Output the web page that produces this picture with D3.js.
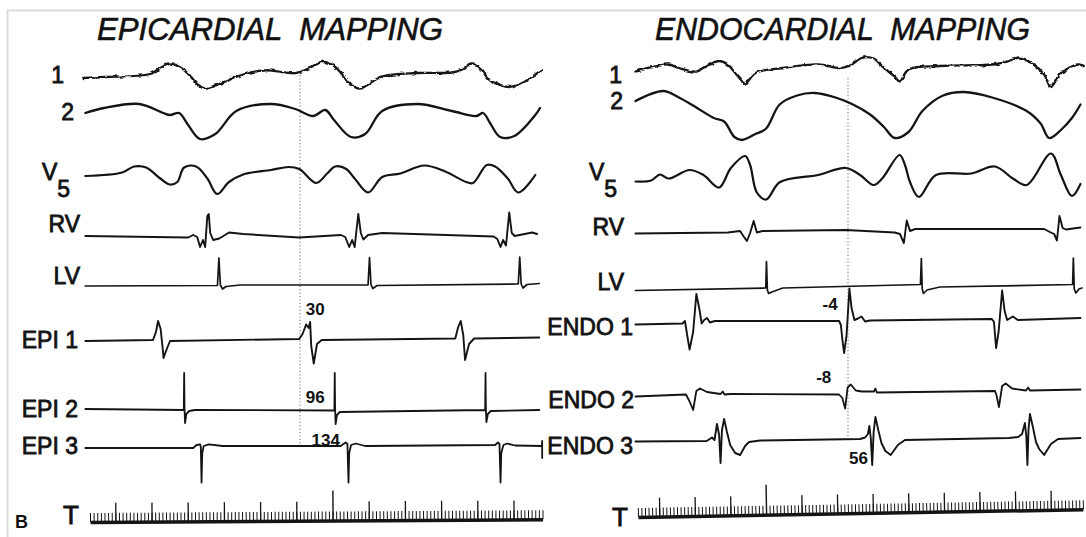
<!DOCTYPE html>
<html>
<head>
<meta charset="utf-8">
<script src="https://cdn.jsdelivr.net/npm/d3@7"></script>
<style>
  html, body { margin: 0; padding: 0; background: #fff; }
  svg { display: block; }
  text { font-family: "Liberation Sans", Arial, sans-serif; fill: #111; }
</style>
</head>
<body>
<svg id="chart" width="1086" height="537"></svg>
<script>
// ---------------------------------------------------------------
// Recordings: each lead is a list of [time (ms), deflection] pairs.
// Time 0 is the reference (dotted line); deflection is upward-positive.
// ---------------------------------------------------------------

// Epicardial mapping panel
const epiLead1 = [[-598,-5],[-541,-4],[-415,-1],[-386,5],[-359,9.5],[-328,5],[-306,-2],[-281,-12],[-262,-15.5],[-214,-9.5],[-157,-1.5],[-99,2.5],[-12,0],[17,3.5],[64,11],[94,7],[117,-1.5],[141,-12],[166,-15.5],[227,-3.5],[324,0],[420,0.5],[448,3.5],[473,9.5],[500,3.5],[525,-7.5],[554,-12],[574,-14],[611,-10.5],[650,-1.5],[668,3]];
const epiLead2 = [[-593,-3],[-541,2],[-444,6],[-378,-3],[-359,-5],[-334,-3],[-309,-15],[-276,-29],[-234,-24],[-176,-1],[-80,6],[-13,1],[36,-6],[70,0],[94,-10],[141,-27],[180,-24],[227,-1],[324,6],[420,-1],[487,-6],[506,-3],[525,-13],[553,-27],[592,-26],[650,-5],[663,2]];
const epiV5 = [[-593,0],[-491,3.5],[-458,9.5],[-425,8.5],[-386,-2.5],[-359,-8.5],[-339,-6],[-320,8.5],[-287,9.5],[-256,-2.5],[-229,-18],[-196,-6],[-157,1.5],[-80,6],[-31,9],[-2,7],[45,-7],[75,2.5],[97,9.5],[128,7],[151,-2.5],[188,-16.5],[227,-1],[277,2.5],[343,10.5],[401,4.5],[459,-6],[478,-7],[516,11],[539,9.5],[574,-2.5],[603,-16.5],[650,1]];
const epiRV = [[-593,0],[-309,-1.5],[-295,1],[-284,-1],[-276,-11],[-268,-4],[-262,-11],[-256,20],[-252,22],[-248,3],[-240,-4],[-223,-2.5],[-196,3.5],[-157,2],[-2,-1.5],[113,1],[125,-1],[136,-11],[144,-4],[151,-11],[161,22],[168,3],[175,-3.5],[188,1],[227,3],[535,-0.5],[545,-3],[554,-11],[561,-4],[569,-9.5],[578,23.5],[585,3],[593,0],[641,3.5],[655,2]];
const epiLV = [[-593,-3],[-228,-2.5],[-224,25],[-220,-2],[-214,-6],[-204,-3.5],[-165,-2],[188,-2],[192,25.5],[196,-1.5],[201,-5.5],[213,-2.5],[603,-1],[607,26],[611,-1],[616,-5],[627,-1.5],[661,-0.5]];
const epi1 = [[-593,-1],[-406,0],[-398,8],[-392,19],[-385,11],[-379,-9.5],[-377,-18],[-367,-8],[-359,-1],[-2,1],[7,6],[17,15.5],[24,12],[28,18],[31,-6],[38,-23.5],[47,-4],[60,0],[429,1.5],[437,13],[444,19],[451,5],[456,-20],[467,-4],[481,1.5],[661,2.5]];
const epi2 = [[-593,0],[-321,-1],[-320,36],[-319,0],[-317.5,-14],[-314,-5],[-306,-2],[-290,-1],[95,-1.5],[96,36],[97,-1],[98.5,-15],[102,-6],[110,-3],[511.5,-1],[512.5,36],[513.5,-1],[515,-13],[519,-5],[527,-2],[661,-1]];
const epi3 = [[-593,-1],[-295,-1],[-286,2],[-276,2.7],[-274,0],[-272,-35.5],[-270,-6],[-266,1],[-252,2.7],[-214,1],[112,1],[126,4.5],[131,3],[134,-35.5],[136,-6],[141,2],[154,3.5],[180,1],[539,2],[547,4.5],[551,3],[554,-35.5],[556,-6],[562,2],[572,3.5],[594,1.5],[668,1],[669,6],[669,-11]];

// Endocardial mapping panel
const endoLead1 = [[-597,-1.5],[-543,3.5],[-504,5.5],[-475,2],[-426,-1.5],[-388,5.5],[-362,9],[-338,5.5],[-309,-6.5],[-289,-13.5],[-260,-3],[-183,2],[-84,5.5],[-25,2],[3,4],[42,12.5],[72,11.5],[101,2],[131,-6.5],[145,-11.5],[170,0.5],[258,4],[405,5.5],[452,9],[482,12.5],[521,5.5],[551,-4.5],[570,-17],[598,-3],[648,5.5],[660,4]];
const endoLead2 = [[-597,-1],[-519,9],[-475,2.5],[-426,-7.5],[-377,-18],[-348,-21.5],[-319,-37],[-298,-40],[-260,-34],[-230,-28.5],[-192,-4.5],[-143,4.5],[-94,7],[-35,2.5],[14,-4.5],[62,-14.5],[101,-27],[131,-38],[170,-32],[209,-11],[267,4.5],[326,8],[405,2.5],[502,-11],[541,-23.5],[565,-38],[598,-30],[629,-18],[653,-4.5]];
const endoV5 = [[-597,-1.5],[-553,-0.5],[-528,5.5],[-504,1.5],[-445,10],[-406,5],[-362,-7.5],[-329,12],[-289,24],[-275,15],[-256,-12.5],[-230,-19.5],[-191,-2],[-84,5],[-6,12],[34,5],[72,-5],[96,1.5],[145,25],[160,15],[174,-2],[199,-17],[247,5],[346,6.5],[413,13.5],[463,1.5],[502,-5],[570,26.5],[598,5],[629,-16],[653,-4]];
const endoRV = [[-597,-0.5],[-338,0.5],[-303,2],[-294,-3],[-284,-8],[-275,0],[-265,12],[-256,0.5],[-240,2],[-6,3],[131,0.5],[146,-1],[157,-10],[165,12.5],[174,2],[189,4],[551,4],[567,1],[579,-1],[587,-7.5],[594,17],[603,5],[612,3.5],[653,5.5]];
const endoLV = [[-597,-2.5],[-231,0],[-229,26.5],[-226.5,-2],[-223,-5.5],[-214,-4],[-183,0],[203.5,3.5],[206,29.5],[208.5,-1],[212,-5.5],[222,-2],[258,1],[631,3.5],[633,30],[635.5,-1],[640,-5],[649,-1],[657,0]];
const endo1 = [[-597,-2.5],[-465,-1.5],[-458,1],[-450,-17],[-445,-27.5],[-435,-10],[-426,28],[-418,14],[-411,-1.5],[-404,2],[-396,4],[-388,-0.5],[-374,1],[-25,1],[-20,-3],[-16,-17],[-11,-31],[-4,-13],[4,33.5],[10,14],[18,2],[28,3.5],[38,5.5],[48,0.5],[62,1.5],[404,3],[410,0],[416,-26],[423,-10],[433,31.5],[440,11],[447,2],[463,5.5],[477,2],[653,4]];
const endo2 = [[-597,-1.5],[-455,0.5],[-445,-6.5],[-435,-15],[-426,4],[-416,6.5],[-396,3],[-358,1],[-352,3.5],[-347,0.5],[-331,1],[-25,0.5],[-16,-3],[-8,-13.5],[-1,7.5],[8,10.5],[22,4.5],[39,3.5],[73,3.5],[77,6.5],[81,2.5],[413,4],[417,0],[424,-12],[433,9],[443,11.5],[461,6.5],[500,4.5],[506,7.5],[511,4.5],[653,5.5]];
const endo3 = [[-597,-1.5],[-397,-1],[-382,2.5],[-375,0],[-368,16],[-362,5],[-358,-23],[-354,10],[-348,21],[-340,8],[-331,-5],[-317,-13],[-303,-15],[-289,-6],[-278,-2],[-247,-0.5],[34,1],[48,2.5],[56,6],[60,14],[64,2],[68,-25],[72,8],[77,23],[85,10],[94,-3],[105,-11],[120,-15],[140,-5],[160,0],[452,2],[478,3],[489,6],[497,17],[501,3],[504,-25],[507,10],[511,26],[520,12],[528,-2],[537,-9],[551,-15],[570,-4],[590,1],[653,2]];

// Activation times written beside the mapping electrograms (ms)
const epiActivation = [["EPI 1", 30], ["EPI 2", 96], ["EPI 3", 134]];
const endoActivation = [["ENDO 1", -4], ["ENDO 2", -8], ["ENDO 3", 56]];

// Time-marker rulers: [first, last] minor tick (10 ms apart), 100 ms marks, long mark
const epiRulerRange = [-580, 670];
const epiRulerMajor = [-510, -410, -310, -210, -110, -10, 190, 290, 390, 490, 590];
const epiRulerLong = [90];
const endoRulerRange = [-590, 660];
const endoRulerMajor = [-530, -430, -330, -130, -30, 70, 170, 270, 370, 470, 570];
const endoRulerLong = [-230];

// ---------------------------------------------------------------
// Layout
// ---------------------------------------------------------------
const svg = d3.select("#chart");
const ink = "#141414";

// slight pen wobble for the surface leads
const defs = svg.append("defs");
const rough = defs.append("filter").attr("id", "rough")
  .attr("x", "-2%").attr("y", "-40%").attr("width", "104%").attr("height", "180%");
rough.append("feTurbulence").attr("type", "fractalNoise")
  .attr("baseFrequency", "0.16 0.28").attr("numOctaves", 2).attr("seed", 11).attr("result", "noise");
rough.append("feDisplacementMap").attr("in", "SourceGraphic").attr("in2", "noise")
  .attr("scale", 3.4).attr("xChannelSelector", "R").attr("yChannelSelector", "G");

// page frame
svg.append("line").attr("x1", 7).attr("x2", 1086).attr("y1", 10.5).attr("y2", 10.5)
  .attr("stroke", "#dcdcdc").attr("stroke-width", 2);
svg.append("line").attr("x1", 7.5).attr("x2", 7.5).attr("y1", 10).attr("y2", 537)
  .attr("stroke", "#dcdcdc").attr("stroke-width", 2);

const panels = [
  {
    title: "EPICARDIAL MAPPING", titleX: 97, titleLen: 346,
    ref: 300, msPx: 0.362, dotted: [75, 444],
    leads: [
      { name: "1", data: epiLead1, base: 73, smooth: true, rough: true, w: 2.3, lx: 64, ly: 83 },
      { name: "2", data: epiLead2, base: 110, smooth: true, w: 2.3, lx: 74, ly: 120 },
      { name: "V5", data: epiV5, base: 176, smooth: true, w: 2.2, vx: 42, ly: 180 },
      { name: "RV", data: epiRV, base: 236, w: 1.9, lx: 80, ly: 232 },
      { name: "LV", data: epiLV, base: 283, w: 1.7, lx: 80, ly: 284 },
      { name: "EPI 1", data: epi1, base: 340, w: 1.9, lx: 78, ly: 348 },
      { name: "EPI 2", data: epi2, base: 409, w: 1.8, lx: 78, ly: 417 },
      { name: "EPI 3", data: epi3, base: 447, w: 1.8, lx: 78, ly: 454 }
    ],
    activation: epiActivation,
    labelPos: { "EPI 1": [-5, -25], "EPI 2": [-29, -6], "EPI 3": [-37, -1] },
    ruler: { range: epiRulerRange, major: epiRulerMajor, long: epiRulerLong, y: 522, tilt: -0.35 },
    tX: 63, tY: 524
  },
  {
    title: "ENDOCARDIAL MAPPING", titleX: 655, titleLen: 375,
    ref: 848, msPx: 0.356, dotted: [78, 440],
    leads: [
      { name: "1", data: endoLead1, base: 70, smooth: true, rough: true, w: 2.3, lx: 622, ly: 83 },
      { name: "2", data: endoLead2, base: 100, smooth: true, w: 2.3, lx: 623, ly: 109 },
      { name: "V5", data: endoV5, base: 180, smooth: true, w: 2.2, vx: 589, ly: 180 },
      { name: "RV", data: endoRV, base: 233, w: 1.9, lx: 624, ly: 235 },
      { name: "LV", data: endoLV, base: 288, w: 1.7, lx: 624, ly: 290 },
      { name: "ENDO 1", data: endo1, base: 322, w: 1.9, lx: 633, ly: 335 },
      { name: "ENDO 2", data: endo2, base: 395, w: 1.8, lx: 634, ly: 408 },
      { name: "ENDO 3", data: endo3, base: 440, w: 1.9, lx: 633, ly: 454 }
    ],
    activation: endoActivation,
    labelPos: { "ENDO 1": [-24, -12.5], "ENDO 2": [-29, -12.5], "ENDO 3": [-19, 23.5] },
    ruler: { range: endoRulerRange, major: endoRulerMajor, long: endoRulerLong, y: 517, tilt: -1.0 },
    tX: 612, tY: 526
  }
];

panels.forEach(p => {
  const g = svg.append("g");
  const x = d3.scaleLinear()
    .domain([-600, 700])
    .range([p.ref - 600 * p.msPx, p.ref + 700 * p.msPx]);

  // title
  g.append("text")
    .attr("x", p.titleX).attr("y", 40)
    .attr("font-size", 32).attr("font-style", "italic")
    .attr("stroke", ink).attr("stroke-width", 0.6)
    .attr("textLength", p.titleLen).attr("lengthAdjust", "spacingAndGlyphs")
    .attr("xml:space", "preserve")
    .text(p.title.replace(" ", "  "));

  // reference line
  g.append("line")
    .attr("x1", x(0)).attr("x2", x(0))
    .attr("y1", p.dotted[0]).attr("y2", p.dotted[1])
    .attr("stroke", "#777").attr("stroke-width", 1.1)
    .attr("stroke-dasharray", "1.2,2.2");

  // leads
  p.leads.forEach(ld => {
    const y = d3.scaleLinear().domain([0, 1]).range([ld.base, ld.base - 1]);
    const line = d3.line()
      .x(d => x(d[0])).y(d => y(d[1]))
      .curve(ld.smooth ? d3.curveCatmullRom.alpha(0.5) : d3.curveLinear);
    const path = g.append("path")
      .attr("d", line(ld.data))
      .attr("fill", "none").attr("stroke", ink)
      .attr("stroke-width", ld.w)
      .attr("stroke-linejoin", "round").attr("stroke-linecap", "round");
    if (ld.rough) path.attr("filter", "url(#rough)");

    // lead label
    if (ld.name === "V5") {
      const t = g.append("text").attr("x", ld.vx).attr("y", ld.ly).attr("font-size", 23)
        .attr("stroke", ink).attr("stroke-width", 0.8);
      t.append("tspan").text("V");
      t.append("tspan").attr("dy", 17).text("5");
    } else {
      g.append("text")
        .attr("x", ld.lx).attr("y", ld.ly)
        .attr("text-anchor", "end").attr("font-size", 23)
        .attr("stroke", ink).attr("stroke-width", 0.8)
        .attr("xml:space", "preserve")
        .text(ld.name);
    }
  });

  // activation times
  p.activation.forEach(([lead, ms]) => {
    const ld = p.leads.find(l => l.name === lead);
    const off = p.labelPos[lead];
    g.append("text")
      .attr("x", x(ms) + off[0]).attr("y", ld.base + off[1])
      .attr("font-size", 17).attr("font-weight", "bold")
      .text(ms);
  });

  // time-marker ruler
  const r = p.ruler;
  const rg = g.append("g")
    .attr("transform", `translate(0,${r.y}) rotate(${r.tilt},${x(r.range[0])},0)`);
  const minor = d3.range(r.range[0], r.range[1] + 1, 10);
  const rx = x.copy().domain([r.range[0], r.range[1]]).range([x(r.range[0]), x(r.range[1])]);
  const minorAxis = rg.append("g").call(
    d3.axisTop(rx).tickValues(minor).tickSize(9).tickSizeOuter(0).tickFormat(""));
  minorAxis.select(".domain").attr("stroke", ink).attr("stroke-width", 3.5);
  minorAxis.selectAll(".tick line").attr("stroke", ink).attr("stroke-width", 1);
  const majorAxis = rg.append("g").call(
    d3.axisTop(rx).tickValues(r.major).tickSize(19).tickFormat(""));
  majorAxis.select(".domain").remove();
  majorAxis.selectAll(".tick line").attr("stroke", ink).attr("stroke-width", 1.3);
  const longAxis = rg.append("g").call(
    d3.axisTop(rx).tickValues(r.long).tickSize(30).tickFormat(""));
  longAxis.select(".domain").remove();
  longAxis.selectAll(".tick line").attr("stroke", ink).attr("stroke-width", 1.4);

  g.append("text").attr("x", p.tX).attr("y", p.tY).attr("font-size", 26)
    .attr("stroke", ink).attr("stroke-width", 0.8).text("T");
});

// panel letter
svg.append("text").attr("x", 15).attr("y", 528)
  .attr("font-size", 18).attr("font-weight", "bold").text("B");
</script>
</body>
</html>
